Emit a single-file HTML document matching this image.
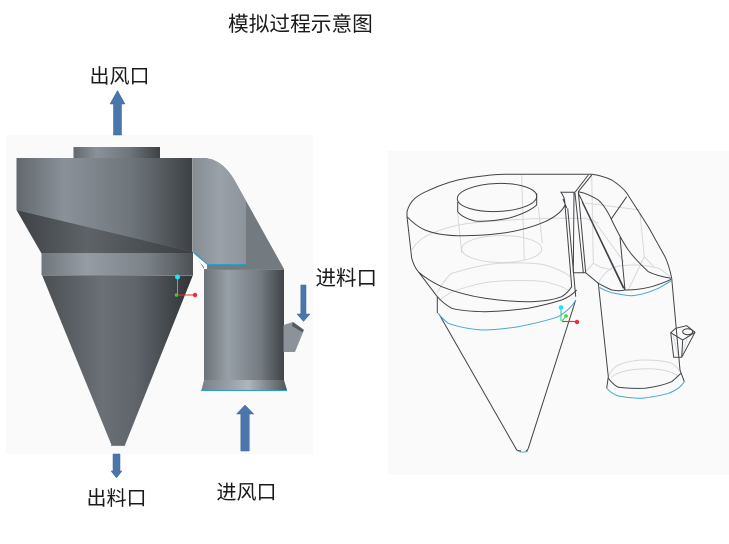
<!DOCTYPE html>
<html><head><meta charset="utf-8"><style>
html,body{margin:0;padding:0;background:#fff}
svg{display:block}
text{font-family:"Liberation Sans","Noto Sans CJK SC",sans-serif;fill:#1a1a1a}
</style></head><body>
<svg xmlns="http://www.w3.org/2000/svg" width="729" height="544" viewBox="0 0 729 544">
<defs>
<linearGradient id="cyl" x1="0" x2="1" y1="0" y2="0"><stop offset="0" stop-color="#62686d"/><stop offset=".27" stop-color="#8a9198"/><stop offset=".65" stop-color="#6e757b"/><stop offset="1" stop-color="#3d4145"/></linearGradient>
<linearGradient id="band" x1="0" x2="1" y1="0" y2="0"><stop offset="0" stop-color="#6f767c"/><stop offset=".3" stop-color="#959ca3"/><stop offset=".7" stop-color="#7a8187"/><stop offset="1" stop-color="#4c5155"/></linearGradient>
<linearGradient id="dark" x1="0" x2="1" y1="0" y2="0"><stop offset="0" stop-color="#3e4246"/><stop offset=".4" stop-color="#5e6368"/><stop offset="1" stop-color="#3b3f43"/></linearGradient>
<linearGradient id="cone" x1="0" x2="1" y1="0" y2="0"><stop offset="0" stop-color="#4a4f53"/><stop offset=".4" stop-color="#6a7076"/><stop offset=".62" stop-color="#5f656b"/><stop offset="1" stop-color="#2f3336"/></linearGradient>
<linearGradient id="pipe" x1="0" x2="1" y1="0" y2="0"><stop offset="0" stop-color="#6b7278"/><stop offset=".3" stop-color="#98a0a7"/><stop offset=".7" stop-color="#747b81"/><stop offset="1" stop-color="#404448"/></linearGradient>
<linearGradient id="flare" x1="0" x2="1" y1="0" y2="0"><stop offset="0" stop-color="#7a8188"/><stop offset=".55" stop-color="#aeb5bb"/><stop offset="1" stop-color="#51565a"/></linearGradient>
<linearGradient id="duct" x1="0" x2="1" y1="0" y2="0"><stop offset="0" stop-color="#858c93"/><stop offset=".5" stop-color="#9aa1a8"/><stop offset="1" stop-color="#8d949b"/></linearGradient>
</defs>
<rect x="6" y="135" width="307" height="319" fill="#fafafa"/>
<rect x="388" y="151" width="341" height="324" fill="#fafafa"/>

<!-- left model -->
<rect x="73.500" y="147" width="86.500" height="12" fill="url(#cyl)"/>
<path d="M193 158H205C217 159 227 167 235 181L284 269H204L193 252Z" fill="#737a80"/>
<path d="M193 158H205C217 159 227 167 235 181L246 201V264H207L193 252Z" fill="url(#duct)"/>
<path d="M193 253L207 264.500V269H204V267L193 255Z" fill="#fafafa"/>
<path d="M16.500 158H192.500V252L16.500 210Z" fill="url(#cyl)"/>
<path d="M16.500 210L193 252V253.500H41.500Z" fill="url(#dark)"/>
<rect x="41.500" y="253" width="151.500" height="22" fill="url(#band)"/>
<path d="M42 275H193L125 445H111.500Z" fill="url(#cone)"/>
<path d="M204 269H284V380H204Z" fill="url(#pipe)"/>
<path d="M204 380H284L287 390H201.500Z" fill="url(#flare)"/>
<path d="M283.500 325L293 322L304 330L295 352H283.500Z" fill="#8b9299"/>
<path d="M293 322L304 330L302 332L292 326Z" fill="#55595d"/>
<g fill="none" stroke="#2a9fc9" stroke-width="1">
<path d="M42 275.500H193"/><path d="M204 269.500H284"/><path d="M201 390.500H287"/>
<path d="M207 264.500H246"/><path d="M194 252.500L207 264"/><path d="M111 445.500H125"/>
</g>
<path d="M177.500 278V295" stroke="#25c4b0" stroke-width="1"/>
<path d="M177 295H195" stroke="#f03030" stroke-width="1"/>
<circle cx="177.500" cy="277" r="2.500" fill="#1fe6ee"/>
<circle cx="176.500" cy="295" r="1.800" fill="#30d030"/>
<circle cx="195" cy="295" r="2.200" fill="#f02c2c"/>

<!-- arrows -->
<g fill="#4a76ac" stroke="#3f6797" stroke-width=".5">
<path d="M113.500 135V104H110L117.500 90.500L125 104H121.500V135Z"/>
<path d="M300.800 285H306V314H310L303.500 321.500L297 314H300.800Z"/>
<path d="M240.800 451V414H236.500L245 405L253.800 414H249.300V451Z"/>
<path d="M113 454H120V471H122L116.500 478L111 471H113Z"/>
</g>

<!-- hidden lines -->
<g fill="none" stroke="#d8d8dc" stroke-width="1">
<path d="M411.700 250C416 243 423 237 431.700 233.300C450 226 465 223 485 221.700C510 220 530 218.500 551.700 218.300H585L598.300 223"/>
<ellipse cx="501.700" cy="249" rx="40" ry="13.500"/>
<path d="M457.700 213L461.700 253M538.300 206.700L542.300 243.300"/>
<path d="M521.700 175L524.300 260"/>
<path d="M437 293C442 284 447 277 451.700 273.300C470 268 485 264 501.700 263.300C520 262.500 535 263 545 265C555 268 565 272 570 276.700"/>
<path d="M440 300C448 293 456 290 468.300 286.700C485 282 495 281 508.300 280.700C525 280.300 535 280.500 545 281.700C555 284 563 287 568.300 290"/>
<path d="M598.500 283C602 275 607 271 611.700 268C620 265 630 265 638.300 265C650 266 660 268 661.700 270L670 276.700"/>
<path d="M591.700 175L593.300 263.300L585 272.700M593.300 263.300L600 267L612 270"/>
<path d="M640 213L644.300 256.700L628.300 290M644.300 256.700L655 268"/>
<path d="M585 203L640 210M592 218L624 262"/>
<path d="M608.300 376.700C610 372 614 367 618.300 365C628 361 636 360 645 360C655 360 665 361 671.700 363.300C675 365 678 368 680 371.700"/>
<path d="M611 378C615 373 625 370 640 369C655 368 670 370 678 376"/>
<path d="M673 335L678 355M688 335L682 355"/>
</g>
<!-- dark lines -->
<g fill="none" stroke="#404346" stroke-width="1">
<path d="M407 216.700V211.700C410 200 418 195 428 190.700C440 185 455 180 468 178C485 175.500 495 174.300 505 174.300H591.700C598 175 605 177 611.700 180C618 184 623 188 626.700 193L648.300 226.700L665 256.700C668 263 670 270 671.700 278.300"/>
<path d="M407 216.700C412 222 418 227 425 230C435 234 447 235.500 458 235.700C475 236 488 235 501.700 233.300C518 231 533 227 545 221.700C555 217 562 212 565 205C565 200 564 196 561 192.300H575"/>
<path d="M407 216.700L411.700 258.300C413 263 415 268 418.300 271.700C425 278 432 282 441.700 286.700C455 292 470 296 485 298.300C500 300.500 515 302 531.700 301.700C545 301 553 300 561.700 296.700C566 294 569 291 571.700 286.700L565 205"/>
<path d="M418.300 271.700L437.300 296.700V313.300"/>
<path d="M437.300 296.700C441 301 446 305 451.700 308.300C462 311 473 311.500 485 311.700C500 311.500 515 310 528.300 308.300C540 306 552 303 561.700 300C567 298 572 295 576.700 290"/>
<path d="M567.700 208.300L575.700 296.700"/>
<path d="M563 199L566.700 208"/>
<path d="M574 192.300L573.300 272.700M575 193L583.300 272.700M578.300 191.700L585.700 272.700M573.300 272.700H585.700"/>
<path d="M575 192.300L588.300 175M578.300 191.700L591.700 175"/>
<path d="M578.300 191.700C586 193 592 196 598.300 200C604 205 608 212 611.700 220C617 231 622 241 628.300 250C635 259 642 266 648.300 271.700C655 275 663 277 671 278.300"/>
<path d="M626.700 196.700L611 219.300"/>
<path d="M578.300 193L625 290L620 237.300M582 201.700L623.300 288.300"/>
<path d="M585.700 272.700L598.300 283.300C603 286 607 288 611.700 290C617 291 621 291 625 290C635 290 643 289 651.700 286.700C660 284 666 282 671 279.300"/>
<path d="M598.300 283.300L608.300 376.700L606.700 388.300"/>
<path d="M671.700 278.300L680 370L684.300 381.700"/>
<path d="M608.300 378C611 382 614 385 618.300 387.300C627 388.500 636 388.500 645 388.300C655 387 664 385 671.700 381.700C675 379 678 376 681 373.300"/>
<path d="M439 314L516.700 450M575.700 300L528.300 448.300"/>
<path d="M516.700 450C518 450.500 520 451 521 451M526 451C527 450.500 528 449.500 528.300 448.300"/>
<path d="M670.700 332.700L675.700 328.300L686.700 325.700L695 332.300L681.700 357.300H673.700L670.700 332.700Z"/>
<path d="M670.700 332.700L682.700 340L695 332.300M682.700 340L681.700 357.300"/>
<ellipse cx="687.700" cy="331.700" rx="5" ry="3"/>
<path d="M457.700 201.700V211.700C461 216 467 219 475 221C486 222 497 220.500 508.300 218.300C520 215 530 211 536.700 205V193.300"/>
<ellipse cx="497" cy="197.500" rx="39.700" ry="14" transform="rotate(-2 497 197.500)"/>
</g>
<g fill="none" stroke="#4aa8d0" stroke-width="1">
<path d="M438.300 313.300C441 317 444 320 448.300 323.300C458 327 470 329 481.700 330C495 330 507 328.500 518.300 326.700C532 324 546 321 558.300 316.700C566 312 572 307 575.700 300"/>
<path d="M598.300 286.700C602 289 606 291 611.700 292.700C618 294 625 295.500 631.700 295.700C641 295 650 292 658.300 288.300C663 286 667 283 671 281"/>
<path d="M606.700 388.300C609 391 613 394 618.300 396C626 397.500 634 398.300 641.700 398.300C651 397 660 396 668.300 393.300C675 391 681 387 684.300 381.700"/>
<path d="M518 451C521 452.500 525 452.500 528 451"/>
</g>
<path d="M561 308V321" stroke="#25c4b0" stroke-width="1"/>
<path d="M562 321.500H577" stroke="#f03030" stroke-width="1.200"/>
<path d="M562 321L566 316" stroke="#30d030" stroke-width="1"/>
<circle cx="561" cy="307.500" r="2.300" fill="#1fe6ee"/>
<circle cx="566" cy="316" r="1.800" fill="#30e030"/>
<circle cx="577" cy="322" r="2.200" fill="#f02c2c"/>

<!-- labels -->
<text x="228" y="31" font-size="20.700">模拟过程示意图</text>
<text x="89.500" y="83" font-size="20">出风口</text>
<text x="86.500" y="505" font-size="20">出料口</text>
<text x="216.500" y="499" font-size="20">进风口</text>
<text x="315.500" y="285" font-size="20.500">进料口</text>
</svg>
</body></html>
